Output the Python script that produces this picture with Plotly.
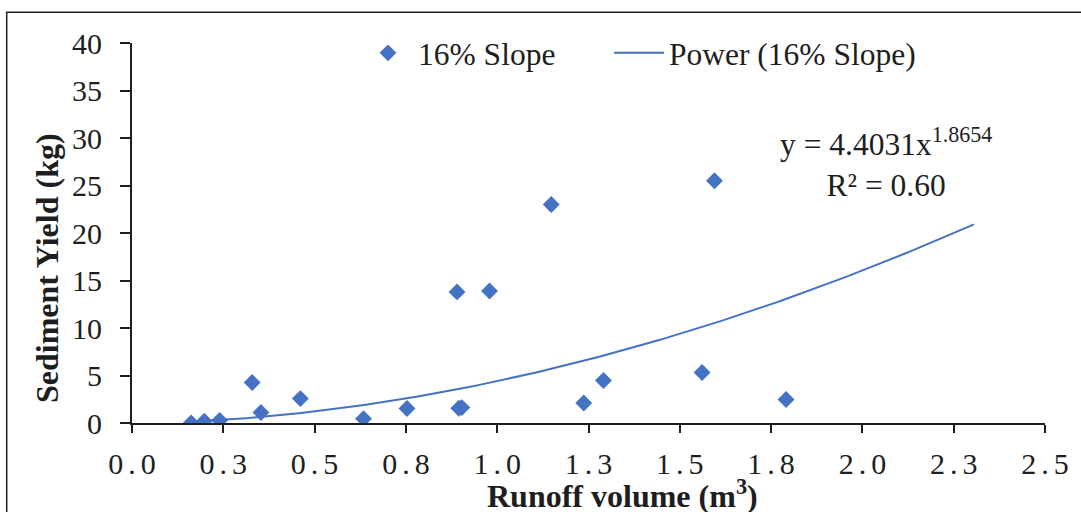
import plotly.graph_objects as go
import numpy as np

# Observed runoff volume (m3) and sediment yield (kg) on the 16% slope plots
runoff = [0.162, 0.198, 0.240, 0.329, 0.353, 0.461, 0.634, 0.753, 0.895, 0.903,
          0.890, 0.979, 1.148, 1.237, 1.291, 1.561, 1.595, 1.791]
sediment = [0.0, 0.18, 0.28, 4.26, 1.10, 2.57, 0.46, 1.52, 1.55, 1.62,
            13.8, 13.9, 23.0, 2.11, 4.47, 5.31, 25.5, 2.47]

# Power trendline y = a * x^b (coefficients as reported on the chart)
coef_a = 4.4031
coef_b = 1.8654
r_squared = 0.60
trend_end = 2.305

x_ticks = [0.0, 0.25, 0.5, 0.75, 1.0, 1.25, 1.5, 1.75, 2.0, 2.25, 2.5]
x_tick_labels = ["0.0", "0.3", "0.5", "0.8", "1.0", "1.3", "1.5", "1.8", "2.0", "2.3", "2.5"]
y_ticks = [0, 5, 10, 15, 20, 25, 30, 35, 40]
y_tick_labels = [str(v) for v in y_ticks]

BLUE = "#4472C4"
INK = "#1e1e1e"
FONT = "Liberation Serif, Times New Roman, serif"
SIX_PER_EM = "\u2006"

trend_x = np.linspace(min(runoff), trend_end, 200)
trend_y = coef_a * trend_x ** coef_b

fig = go.Figure()
fig.add_trace(go.Scatter(
    x=runoff, y=sediment, mode="markers", name="16% Slope",
    marker=dict(symbol="diamond", size=13, color=BLUE),
    legend="legend",
))
fig.add_trace(go.Scatter(
    x=trend_x, y=trend_y, mode="lines", name="Power (16% Slope)",
    line=dict(color=BLUE, width=2),
    legend="legend2",
))

legend_style = dict(
    orientation="h", xanchor="left", y=0.974, yanchor="middle",
    bgcolor="rgba(0,0,0,0)", font=dict(size=31.5, family=FONT, color=INK),
    itemwidth=50,
)

fig.update_layout(
    width=1081, height=512,
    margin=dict(l=132, r=36, t=43, b=89),
    paper_bgcolor="white", plot_bgcolor="white",
    font=dict(family=FONT, color=INK, size=30),
    showlegend=True,
    legend=dict(x=(358 - 132) / 913, **legend_style),
    legend2=dict(x=(609 - 132) / 913, **legend_style),
    xaxis=dict(
        range=[0, 2.5], tickmode="array", tickvals=x_ticks,
        ticktext=[SIX_PER_EM.join(list(t)) for t in x_tick_labels],
        showgrid=False, zeroline=False, showline=True, linecolor=INK, linewidth=2,
        ticks="outside", ticklen=8, tickwidth=2, tickcolor=INK,
        tickfont=dict(size=30, family=FONT, color=INK),
        ticklabelstandoff=5,
    ),
    yaxis=dict(
        range=[0, 40], tickmode="array", tickvals=y_ticks, ticktext=y_tick_labels,
        showgrid=False, zeroline=False, showline=True, linecolor=INK, linewidth=2,
        ticks="outside", ticklen=10, tickwidth=2, tickcolor=INK,
        tickfont=dict(size=30, family=FONT, color=INK),
        ticklabelstandoff=12,
    ),
)

# Axis titles
fig.add_annotation(
    xref="paper", yref="paper", x=(622 - 132) / 913, y=-(494 - 423) / 380,
    text="<b>Runoff volume (m<sup>3</sup>)</b>", showarrow=False,
    font=dict(size=32, family=FONT, color=INK), xanchor="center", yanchor="middle",
)
fig.add_annotation(
    xref="paper", yref="paper", x=-(132 - 47) / 913, y=(423 - 268) / 380,
    text="<b>Sediment Yield (kg)</b>", showarrow=False, textangle=-90,
    font=dict(size=32, family=FONT, color=INK), xanchor="center", yanchor="middle",
)

# Trendline equation and R²
fig.add_annotation(
    xref="paper", yref="paper", x=(886 - 132) / 913, y=(423 - 162) / 380,
    text=f"y = {coef_a:.4f}x<sup>{coef_b:.4f}</sup><br>R² = {r_squared:.2f}",
    showarrow=False, align="center", xanchor="center", yanchor="middle",
    font=dict(size=31.5, family=FONT, color=INK),
)

# Outer chart frame
fig.add_shape(
    type="rect", xref="paper", yref="paper",
    x0=-(132 - 6.7) / 913, x1=1.1, y0=-0.4, y1=(423 - 12.3) / 380,
    line=dict(color=INK, width=1.5), fillcolor="rgba(0,0,0,0)", layer="below",
)

fig.write_html("out.html")
